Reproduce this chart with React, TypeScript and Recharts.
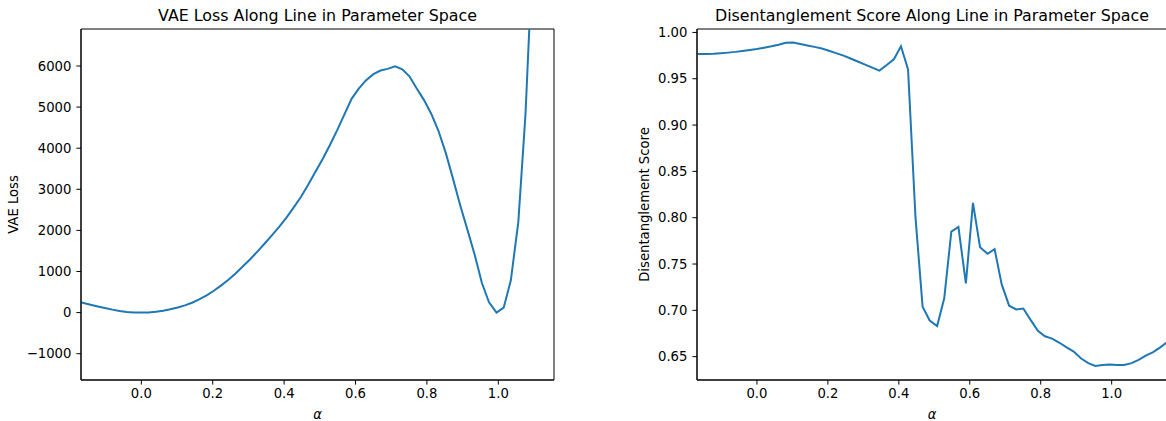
import { LineChart, Line, XAxis, YAxis, ReferenceArea } from 'recharts';

// interpolation coefficient along the line between the two parameter sets
const alpha = [
  -0.203, -0.183, -0.162, -0.142, -0.122, -0.102, -0.081, -0.061, -0.041, -0.02,
  0.0, 0.02, 0.041, 0.061, 0.081, 0.102, 0.122, 0.142, 0.162, 0.183,
  0.203, 0.223, 0.244, 0.264, 0.284, 0.305, 0.325, 0.345, 0.365, 0.386,
  0.406, 0.426, 0.447, 0.467, 0.487, 0.508, 0.528, 0.548, 0.568, 0.589,
  0.609, 0.629, 0.65, 0.67, 0.69, 0.711, 0.731, 0.751, 0.771, 0.792,
  0.812, 0.832, 0.853, 0.873, 0.893, 0.914, 0.934, 0.954, 0.974, 0.995,
  1.015, 1.035, 1.056, 1.076, 1.096, 1.117, 1.137, 1.157, 1.178, 1.198,
];

const vaeLoss = [
  330, 285, 235, 190, 150, 110, 72, 40, 17, 4,
  0, 5, 20, 45, 80, 125, 175, 240, 320, 420,
  532, 657, 797, 952, 1120, 1298, 1483, 1675, 1875, 2085,
  2307, 2547, 2812, 3102, 3412, 3737, 4072, 4427, 4805, 5200,
  5450, 5650, 5800, 5890, 5930, 5990, 5920, 5750, 5460, 5170,
  4840, 4430, 3880, 3260, 2620, 2000, 1400, 720, 250, 0,
  120, 780, 2200, 4800, 8700, 14000, 21000, 30000, 41000, 55000,
];

const disentanglement = [
  0.9768, 0.9768, 0.9768, 0.9768, 0.977, 0.9775, 0.9782, 0.979, 0.98, 0.981,
  0.982, 0.9835, 0.985, 0.9868, 0.9888, 0.989, 0.9876, 0.986, 0.9844, 0.9826,
  0.9802, 0.9777, 0.9749, 0.9718, 0.9686, 0.9653, 0.962, 0.9588, 0.9645, 0.971,
  0.985, 0.96, 0.8, 0.704, 0.689, 0.683, 0.713, 0.785, 0.79, 0.729,
  0.816, 0.768, 0.761, 0.766, 0.728, 0.705, 0.701, 0.702, 0.69, 0.678,
  0.672, 0.6695, 0.665, 0.66, 0.6555, 0.648, 0.643, 0.64, 0.641, 0.6415,
  0.641, 0.641, 0.643, 0.6465, 0.651, 0.655, 0.66, 0.666, 0.673, 0.681,
];

const alphaTicks = [0, 0.2, 0.4, 0.6, 0.8, 1.0];
const lossTicks = [-1000, 0, 1000, 2000, 3000, 4000, 5000, 6000];
const scoreTicks = [0.65, 0.7, 0.75, 0.8, 0.85, 0.9, 0.95, 1.0];

const data = alpha.map((a, i) => ({ alpha: a, loss: vaeLoss[i], score: disentanglement[i] }));

const FONT = '"DejaVu Sans", sans-serif';
const BLUE = '#1f77b4';
const X_DOMAIN = [-0.169, 1.156];
const LOSS_DOMAIN = [-1640, 6900];
const SCORE_DOMAIN = [0.6248, 1.0037];
const tickStyle = { fill: '#000', fontSize: 13.2, fontFamily: FONT };
const minus = (s: string) => s.replace('-', '\u2212');

export default function App() {
  return (
    <div style={{ position: 'absolute', left: 0, top: 0, width: 1166, height: 421, overflow: 'hidden', background: '#fff' }}>
      <div style={{ position: 'absolute', left: 0, top: 0 }}>
        <LineChart width={583} height={421} data={data} margin={{ top: 29, right: 29, bottom: 11, left: 21 }}>
          <XAxis
            dataKey="alpha"
            type="number"
            domain={X_DOMAIN}
            allowDataOverflow
            ticks={alphaTicks}
            interval={0}
            tickFormatter={(v: number) => v.toFixed(1)}
            height={30}
            tickSize={4.6}
            tickMargin={4}
            stroke="#000"
            tick={tickStyle}
          />
          <YAxis
            type="number"
            domain={LOSS_DOMAIN}
            allowDataOverflow
            ticks={lossTicks}
            interval={0}
            tickFormatter={(v: number) => minus(String(v))}
            width={60}
            tickSize={4.6}
            tickMargin={5}
            stroke="#000"
            tick={tickStyle}
          />
          <Line dataKey="loss" type="linear" stroke={BLUE} strokeWidth={2} dot={false} isAnimationActive={false} />
          <ReferenceArea x1={X_DOMAIN[0]} x2={X_DOMAIN[1]} y1={LOSS_DOMAIN[0]} y2={LOSS_DOMAIN[1]} fill="none" stroke="#000" strokeWidth={1} ifOverflow="visible" />
        </LineChart>
      </div>
      <div style={{ position: 'absolute', left: 600, top: 0 }}>
        <LineChart width={600} height={421} data={data} margin={{ top: 29, right: 33, bottom: 11, left: 37 }}>
          <XAxis
            dataKey="alpha"
            type="number"
            domain={X_DOMAIN}
            allowDataOverflow
            ticks={alphaTicks}
            interval={0}
            tickFormatter={(v: number) => v.toFixed(1)}
            height={30}
            tickSize={4.6}
            tickMargin={4}
            stroke="#000"
            tick={tickStyle}
          />
          <YAxis
            type="number"
            domain={SCORE_DOMAIN}
            allowDataOverflow
            ticks={scoreTicks}
            interval={0}
            tickFormatter={(v: number) => v.toFixed(2)}
            width={60}
            tickSize={4.6}
            tickMargin={5}
            stroke="#000"
            tick={tickStyle}
          />
          <Line dataKey="score" type="linear" stroke={BLUE} strokeWidth={2} dot={false} isAnimationActive={false} />
          <ReferenceArea x1={X_DOMAIN[0]} x2={X_DOMAIN[1]} y1={SCORE_DOMAIN[0]} y2={SCORE_DOMAIN[1]} fill="none" stroke="#000" strokeWidth={1} ifOverflow="visible" />
        </LineChart>
      </div>
      <svg width={1166} height={421} style={{ position: 'absolute', left: 0, top: 0, pointerEvents: 'none' }} fontFamily={FONT} fill="#000">
        <text x={317.5} y={21} fontSize={15.85} textAnchor="middle">VAE Loss Along Line in Parameter Space</text>
        <text x={932} y={21} fontSize={15.85} textAnchor="middle">Disentanglement Score Along Line in Parameter Space</text>
        <text x={317.5} y={419} fontSize={13.2} fontStyle="italic" textAnchor="middle">α</text>
        <text x={932} y={419} fontSize={13.2} fontStyle="italic" textAnchor="middle">α</text>
        <text x={18.3} y={204.5} fontSize={13.2} textAnchor="middle" transform="rotate(-90 18.3 204.5)">VAE Loss</text>
        <text x={649} y={204.5} fontSize={13.2} textAnchor="middle" transform="rotate(-90 649 204.5)">Disentanglement Score</text>
      </svg>
    </div>
  );
}
